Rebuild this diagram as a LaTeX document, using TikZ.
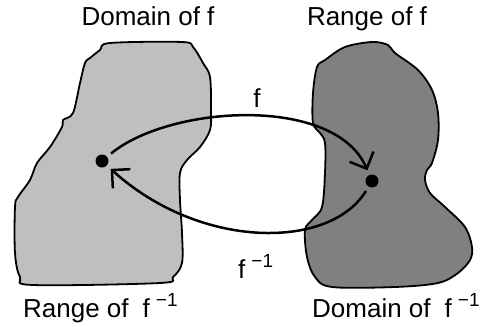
\documentclass[tikz,border=0pt]{standalone}
\usepackage{fontspec}
\setmainfont{Liberation Sans}
\usepackage{tikz}
\usetikzlibrary{arrows.meta}
\newcommand{\finv}{f\hspace{6pt}\raisebox{11pt}{\fontsize{19}{19}\selectfont −1}}

\begin{document}
\begin{tikzpicture}[x=1pt, y=-1pt, font=\fontsize{26}{30}\selectfont,
    blob/.style={draw=black, line width=1.8pt, line join=round},
    dot/.style={circle, fill=black, inner sep=0pt, minimum size=13pt},
    maparrow/.style={line width=2.5pt, -{Straight Barb[length=13pt, width=26pt, line width=2.5pt]}}]
    \useasboundingbox (0,0) rectangle (491,327);
    \draw[blob, fill=black!25] plot[smooth cycle, tension=0.55] coordinates {
        (110,43) (182,42) (193,47) (203,63) (210,77) (211,110) (210,130) (200,147)
        (187,160) (180,173) (180,200) (182,233) (182,263) (173,277) (160,283) (33,285)
        (20,277) (15,253) (15,207) (18,197) (30,180) (37,163) (50,147) (62,127)
        (63,120) (73,113) (80,83) (85,63) (90,58) (100,50)};
    \draw[blob, fill=black!50] plot[smooth cycle, tension=0.55] coordinates {
        (345,47) (372,42) (388,45) (395,53) (418,70) (432,90) (438,113) (438,140)
        (432,163) (427,170) (425,180) (430,193) (445,207) (465,227) (472,247) (470,260)
        (458,273) (438,283) (395,287) (332,287) (315,277) (307,257) (305,230) (312,220)
        (322,207) (325,173) (325,143) (320,133) (313,123) (313,93) (317,67) (325,60)};
    \node[dot] (dl) at (102,161) {};
    \node[dot] (dr) at (372,181) {};
    \draw[maparrow, shorten <=5pt, shorten >=5pt] (dl) .. controls (170,105) and (335,95) .. (dr);
    \draw[maparrow, shorten <=5pt, shorten >=5pt] (dr) .. controls (330,250) and (200,250) .. (dl);
    \node[anchor=base] (dom) at (148,25) {Domain of f};
    \node[anchor=base] (ran) at (367,25) {Range of f};
    \node[anchor=base] (lf) at (257,107) {f};
    \node[anchor=base west, inner sep=0pt] (lfinv) at (238,278) {\finv};
    \node[anchor=base west, inner sep=0pt] (raninv) at (23,317) {Range of\hspace{14pt}\finv};
    \node[anchor=base west, inner sep=0pt] (dominv) at (312,317) {Domain of\hspace{14pt}\finv};
\end{tikzpicture}
\end{document}
